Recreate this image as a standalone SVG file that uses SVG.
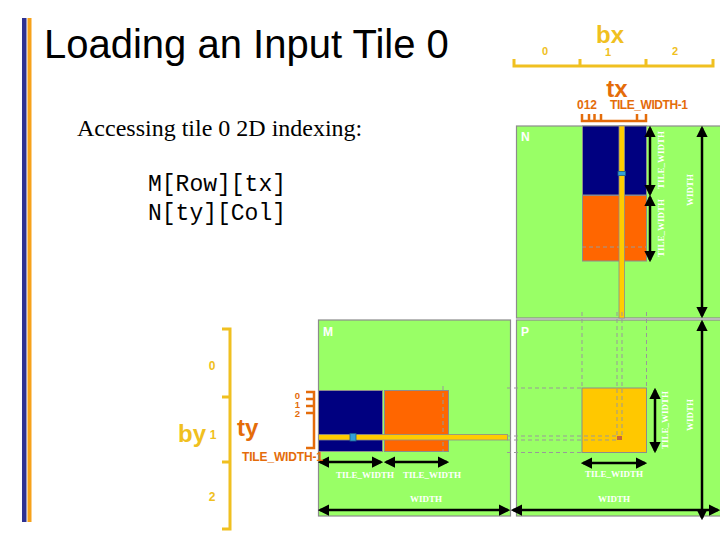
<svg xmlns="http://www.w3.org/2000/svg" width="720" height="540" viewBox="0 0 720 540">
<style>
.mat{fill:#99FF66;stroke:#8C8C8C;stroke-width:1.2}
.navy{fill:#000080;stroke:#8C8C8C;stroke-width:1}
.org{fill:#FF6600;stroke:#8C8C8C;stroke-width:1}
.strip{fill:#FFCC00;stroke:#8C8C8C;stroke-width:0.8}
.dash{stroke:#999;stroke-width:1;stroke-dasharray:4,3;fill:none}
.arr{stroke:#000;stroke-width:2.5;fill:none;marker-start:url(#ah);marker-end:url(#ah)}
.lbl{font-family:"Liberation Serif",serif;font-weight:bold;font-size:9px;fill:#fff;text-anchor:middle}
.mname{font-family:"Liberation Sans",Arial,sans-serif;font-weight:bold;font-size:12px;fill:#fff}
.yel{fill:#F0C020;font-family:"Liberation Sans",Arial,sans-serif;font-weight:bold}
.ora{fill:#E46C0A;font-family:"Liberation Sans",Arial,sans-serif;font-weight:bold}
.yl{stroke:#F0C020;stroke-width:3;fill:none}
.ol{stroke:#E46C0A;stroke-width:2.5;fill:none}
</style>
<defs>
<marker id="ah" viewBox="0 0 10 10" refX="8" refY="5" markerWidth="4.5" markerHeight="4.5" orient="auto-start-reverse" markerUnits="strokeWidth">
<path d="M0,0 L10,5 L0,10 z" fill="#000"/>
</marker>
</defs>
<rect width="720" height="540" fill="#fff"/>
<g id="sidebar">
<rect x="22" y="18" width="4.5" height="504" fill="#2E3192"/>
<rect x="27.5" y="18" width="4" height="504" fill="#F7A21B"/>
</g>
<g id="title">
<text x="44" y="58" font-family="'Liberation Sans',Arial,sans-serif" font-size="40" fill="#000">Loading an Input Tile 0</text>
</g>
<g id="desc">
<text x="77" y="136" font-family="'Liberation Serif','Times New Roman',serif" font-size="24" fill="#000">Accessing tile 0 2D indexing:</text>
<text x="148" y="191" font-family="'Liberation Mono','Courier New',monospace" font-size="23" fill="#000">M[Row][tx]</text>
<text x="148" y="220" font-family="'Liberation Mono','Courier New',monospace" font-size="23" fill="#000">N[ty][Col]</text>
</g>
<g id="matrixN">
<rect class="mat" x="516.5" y="126" width="210" height="192"/>
<rect class="navy" x="582.5" y="126" width="64" height="69"/>
<rect class="org" x="582.5" y="195.5" width="64" height="65.5"/>
<line class="dash" x1="582" y1="247" x2="646" y2="247"/>
<rect class="strip" x="619" y="126" width="5.5" height="192"/>
<rect x="618" y="171.5" width="7.5" height="4" fill="#33A0D8" stroke="#1A5F8A" stroke-width="0.8"/>
<text class="mname" x="521" y="141">N</text>
</g>
<g id="matrixM">
<rect class="mat" x="318.5" y="320" width="192" height="196"/>
<rect class="navy" x="318.5" y="390.5" width="64" height="61"/>
<rect class="org" x="384.5" y="390.5" width="64" height="61"/>
<line class="dash" x1="443" y1="386" x2="443" y2="452"/>
<rect class="strip" x="318.5" y="434.5" width="189" height="5.5"/>
<rect x="350" y="433.5" width="6" height="7.5" fill="#33A0D8" stroke="#1A5F8A" stroke-width="0.8"/>
<text class="mname" x="323" y="336">M</text>
</g>
<g id="matrixP">
<rect class="mat" x="516.5" y="320" width="210" height="196"/>
<rect x="582" y="388" width="64.5" height="64.5" fill="#FFC800" stroke="#8C8C8C" stroke-width="1"/>
<rect x="617" y="436" width="5" height="4" fill="#C8643C"/>
<text class="mname" x="521" y="336">P</text>
</g>
<g id="guides">
<line class="dash" x1="582" y1="312" x2="582" y2="388"/>
<line class="dash" x1="646.5" y1="312" x2="646.5" y2="388"/>
<line class="dash" x1="617" y1="312" x2="617" y2="436"/>
<line class="dash" x1="622" y1="312" x2="622" y2="436"/>
<line class="dash" x1="507" y1="388" x2="582" y2="388"/>
<line class="dash" x1="507" y1="452.5" x2="582" y2="452.5"/>
<line class="dash" x1="507" y1="436" x2="617" y2="436"/>
<line class="dash" x1="507" y1="440" x2="617" y2="440"/>
</g>
<g id="connectors">
<line class="arr" x1="650" y1="128" x2="650" y2="194"/>
<line class="arr" x1="650" y1="197" x2="650" y2="260"/>
<line class="arr" x1="702" y1="128" x2="702" y2="316"/>
<line class="arr" x1="320" y1="462" x2="381" y2="462"/>
<line class="arr" x1="386" y1="462" x2="447" y2="462"/>
<line class="arr" x1="320" y1="510" x2="508" y2="510"/>
<line class="arr" x1="655" y1="390" x2="655" y2="451"/>
<line class="arr" x1="583" y1="463" x2="645" y2="463"/>
<line class="arr" x1="513" y1="510" x2="718" y2="510"/>
<line class="arr" x1="702" y1="322" x2="702" y2="518"/>
</g>
<g id="dimlabels">
<text class="lbl" transform="translate(664,160) rotate(-90)">TILE_WIDTH</text>
<text class="lbl" transform="translate(664,228) rotate(-90)">TILE_WIDTH</text>
<text class="lbl" transform="translate(693,190) rotate(-90)">WIDTH</text>
<text class="lbl" x="365" y="478">TILE_WIDTH</text>
<text class="lbl" x="432" y="478">TILE_WIDTH</text>
<text class="lbl" x="426" y="502">WIDTH</text>
<text class="lbl" transform="translate(668,420) rotate(-90)">TILE_WIDTH</text>
<text class="lbl" x="614" y="477">TILE_WIDTH</text>
<text class="lbl" x="614" y="502">WIDTH</text>
<text class="lbl" transform="translate(693,415) rotate(-90)">WIDTH</text>
</g>
<g id="bx">
<text class="yel" x="610" y="43" font-size="24" text-anchor="middle">bx</text>
<text class="yel" x="545" y="55" font-size="11" text-anchor="middle">0</text>
<text class="yel" x="608" y="56" font-size="11" text-anchor="middle">1</text>
<text class="yel" x="675" y="55" font-size="11" text-anchor="middle">2</text>
<path class="yl" d="M514,59 V66 H713 V59 M580,59 V66 M646,59 V66"/>
</g>
<g id="tx">
<text class="ora" x="617" y="97" font-size="24" text-anchor="middle">tx</text>
<text class="ora" x="577" y="109" font-size="12">012</text>
<text class="ora" x="610" y="109" font-size="12" textLength="78">TILE_WIDTH-1</text>
<path class="ol" d="M582,114 V121 H646 V114 M589,114 V121 M594.5,114 V121 M601,114 V121 M637,114 V121"/>
</g>
<g id="by">
<text class="yel" x="178" y="442" font-size="24">by</text>
<text class="yel" x="212" y="370" font-size="12" text-anchor="middle">0</text>
<text class="yel" x="213" y="439" font-size="12" text-anchor="middle">1</text>
<text class="yel" x="212" y="501" font-size="12" text-anchor="middle">2</text>
<path class="yl" d="M222,329 H230 V529 H222 M222,397 H230 M222,462 H230"/>
</g>
<g id="ty">
<text class="ora" x="237" y="436" font-size="24">ty</text>
<text class="ora" x="300" y="399" font-size="9.5" text-anchor="end">0</text>
<text class="ora" x="300" y="408" font-size="9.5" text-anchor="end">1</text>
<text class="ora" x="300" y="417" font-size="9.5" text-anchor="end">2</text>
<text class="ora" x="242" y="461" font-size="12" font-weight="normal" textLength="81">TILE_WIDTH-1</text>
<path class="ol" d="M306,392 H314 V448 H306 M306,399 H314 M306,406 H314 M306,413 H314"/>
</g>
</svg>
